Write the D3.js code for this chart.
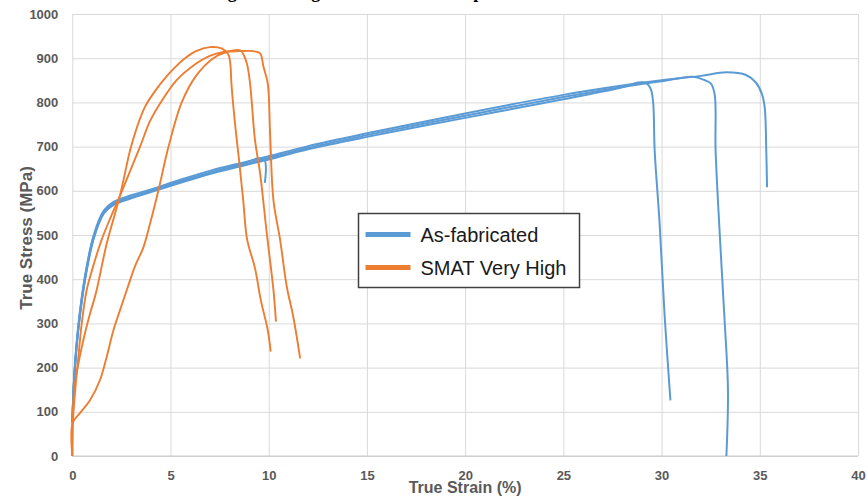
<!DOCTYPE html>
<html>
<head>
<meta charset="utf-8">
<script src="https://cdn.jsdelivr.net/npm/d3@7"></script>
<style>
  html, body { margin: 0; padding: 0; background: #fff; }
  svg { display: block; }
</style>
</head>
<body>
<div id="plot"></div>
<script>
// Tick values
const xTicks = [0, 5, 10, 15, 20, 25, 30, 35, 40];
const yTicks = [0, 100, 200, 300, 400, 500, 600, 700, 800, 900, 1000];

// Series names
const seriesNames = ["As-fabricated", "SMAT Very High"];

// As-fabricated specimens: [strain %, stress MPa]
const asFab1 = [[0,75],[0.1,180],[0.3,290],[0.65,405],[1.08,495],[1.6,552],[2.1,572],[3.0,586],[4.0,600],[5.5,622],[7.0,641],[8.5,659],[9.75,672],[9.8,618]];
const asFab2 = [[0,75],[0.1,175],[0.3,282],[0.65,398],[1.08,490],[1.6,548],[2.1,568],[3.0,583],[4.0,597],[5.5,618],[7.0,638],[8.5,655],[10,671],[12,694],[15,722],[20,765],[25,807],[28,834],[28.8,845],[29.2,844],[29.45,830],[29.57,800],[29.65,690],[29.9,526],[30.16,314],[30.45,126]];
const asFab3 = [[0,75],[0.1,178],[0.3,286],[0.65,402],[1.08,493],[1.6,550],[2.1,570],[3.0,585],[4.0,599],[5.5,620],[7.0,640],[8.5,657],[10,674],[12,697],[15,726],[20,770],[25,812],[28,835],[30,848],[31.6,858],[32.2,850],[32.5,843],[32.7,819],[32.75,691],[32.96,503],[33.2,314],[33.38,149],[33.3,0]];
const asFab4 = [[0,75],[0.1,182],[0.3,292],[0.65,408],[1.08,498],[1.6,555],[2.1,575],[3.0,590],[4.0,603],[5.5,625],[7.0,645],[8.5,662],[10,678],[12,701],[15,730],[20,775],[25,817],[28,838],[30,850],[32,860],[33.3,868],[34.3,862],[34.8,845],[35.1,820],[35.25,789],[35.33,691],[35.37,608]];

// SMAT Very High specimens
const smat1 = [[0,0],[0.02,80],[0.08,140],[0.22,187],[0.56,262],[0.9,322],[1.2,368],[1.75,480],[2.42,588],[2.94,691],[3.3,745],[3.7,790],[4.2,825],[4.63,850],[5.2,878],[5.74,900],[6.3,916],[7.0,925],[7.6,922],[7.95,908],[8.05,885],[8.1,843],[8.3,745],[8.5,665],[8.7,579],[8.9,490],[9.3,425],[9.6,352],[9.95,285],[10.1,236]];
const smat2 = [[0,0],[0.02,70],[0.15,150],[0.31,224],[0.48,300],[0.73,375],[1.0,420],[1.5,490],[2.0,545],[2.42,588],[2.9,640],[3.45,700],[3.96,758],[4.5,800],[5.3,850],[6.0,878],[7.0,905],[7.7,914],[8.5,916],[9.2,916],[9.56,911],[9.73,881],[9.95,843],[10.07,730],[10.24,579],[10.58,489],[10.92,383],[11.25,315],[11.6,221]];
const smat3 = [[0,0],[0.02,75],[0.39,97],[0.9,126],[1.41,172],[1.75,224],[2.09,284],[2.43,330],[2.77,375],[3.2,430],[3.62,472],[3.96,526],[4.38,600],[4.9,700],[5.57,800],[6.3,860],[7.18,900],[7.85,914],[8.55,918],[8.75,905],[8.9,886],[9.05,843],[9.3,715],[9.56,640],[9.9,504],[10.24,376],[10.37,304]];

const blueRuns = [asFab1, asFab2, asFab3, asFab4];
const orangeRuns = [smat1, smat2, smat3];

// Plot settings
const width = 867;
const height = 498;
const margin = { top: 14, right: 9, bottom: 42, left: 72.3 };
const colors = ["#5B9BD5", "#ED7D31"];
const gray = "#595959";

const svg = d3.select("#plot").append("svg")
  .attr("width", width)
  .attr("height", height)
  .style("background-color", "white");

const xScale = d3.scaleLinear()
  .domain([0, 40])
  .range([margin.left, width - margin.right]);

const yScale = d3.scaleLinear()
  .domain([0, 1000])
  .range([height - margin.bottom, margin.top]);

// Figure caption cropped at the top edge (only descenders visible)
svg.append("text")
  .attr("x", 128)
  .attr("y", -2)
  .attr("font-family", "Liberation Serif, serif")
  .attr("font-weight", "bold")
  .attr("font-size", 18)
  .attr("fill", "#000")
  .text("Tensile testing of the original and SMAT samples");

// Gridlines + tick labels
const plotW = xScale.range()[1] - xScale.range()[0];
const plotH = yScale.range()[0] - yScale.range()[1];

const yAxis = d3.axisLeft(yScale).tickValues(yTicks).tickSize(-plotW).tickPadding(14).tickFormat(d3.format("d"));
const xAxis = d3.axisBottom(xScale).tickValues(xTicks).tickSize(-plotH).tickPadding(14.5);

const yAxisGroup = svg.append("g")
  .attr("transform", `translate(${margin.left},0)`)
  .call(yAxis);

const xAxisGroup = svg.append("g")
  .attr("transform", `translate(0,${height - margin.bottom})`)
  .call(xAxis);

[xAxisGroup, yAxisGroup].forEach(g => {
  g.select(".domain").remove();
  g.selectAll(".tick line").attr("stroke", "#D9D9D9").attr("stroke-width", 1);
  g.selectAll(".tick text")
    .attr("fill", gray)
    .attr("font-family", "Liberation Sans, Arial, sans-serif")
    .attr("font-weight", "bold")
    .attr("font-size", 13);
});

// bottom axis line slightly darker
svg.append("line")
  .attr("x1", xScale(0)).attr("x2", xScale(40))
  .attr("y1", yScale(0)).attr("y2", yScale(0))
  .attr("stroke", "#C8C8C8");

// Axis titles
svg.append("text")
  .attr("x", (xScale(0) + xScale(40)) / 2)
  .attr("y", 493)
  .attr("text-anchor", "middle")
  .attr("fill", gray)
  .attr("font-family", "Liberation Sans, Arial, sans-serif")
  .attr("font-weight", "bold")
  .attr("font-size", 16)
  .text("True Strain (%)");

svg.append("text")
  .attr("transform", "translate(32,238) rotate(-90)")
  .attr("text-anchor", "middle")
  .attr("fill", gray)
  .attr("font-family", "Liberation Sans, Arial, sans-serif")
  .attr("font-weight", "bold")
  .attr("font-size", 17)
  .text("True Stress (MPa)");

// Curves
const line = d3.line()
  .x(d => xScale(d[0]))
  .y(d => yScale(d[1]))
  .curve(d3.curveCatmullRom.alpha(0.5));

svg.append("g").selectAll("path.blue")
  .data(blueRuns)
  .enter().append("path")
  .attr("fill", "none")
  .attr("stroke", colors[0])
  .attr("stroke-width", 2)
  .attr("d", line);

svg.append("g").selectAll("path.orange")
  .data(orangeRuns)
  .enter().append("path")
  .attr("fill", "none")
  .attr("stroke", colors[1])
  .attr("stroke-width", 1.9)
  .attr("d", line);

// Legend
const legend = svg.append("g").attr("transform", "translate(358.5,213.5)");
legend.append("rect")
  .attr("width", 221)
  .attr("height", 74)
  .attr("fill", "white")
  .attr("stroke", "#404040")
  .attr("stroke-width", 1.5);

const items = legend.selectAll("g.item")
  .data(seriesNames)
  .enter().append("g")
  .attr("transform", (d, i) => `translate(0,${21 + i * 33})`);

items.append("line")
  .attr("x1", 7).attr("x2", 52)
  .attr("stroke", (d, i) => colors[i])
  .attr("stroke-width", 5);

items.append("text")
  .attr("x", 62)
  .attr("dy", "0.35em")
  .attr("fill", "#1a1a1a")
  .attr("font-family", "Liberation Sans, Arial, sans-serif")
  .attr("font-size", 20)
  .text(d => d);
</script>
</body>
</html>
